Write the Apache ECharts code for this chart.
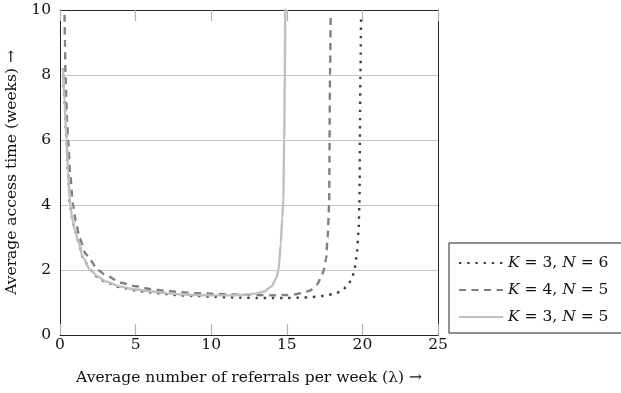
<!DOCTYPE html>
<html>
<head>
<meta charset="utf-8">
<script src="https://cdn.jsdelivr.net/npm/echarts@6/dist/echarts.min.js"></script>
<style>
html,body{margin:0;padding:0;background:#fff;}
#chart{width:621px;height:393px;}
</style>
</head>
<body>
<div id="chart"></div>
<script>
// ---- data ----
var seriesNames = ['K = 3, N = 6', 'K = 4, N = 5', 'K = 3, N = 5'];

var lambdaK3N6 = [0.2,0.3,0.43,0.53,0.66,0.85,1.0,1.2,1.5,2,2.5,3,4,5,6,7,8,9,10,11,12,13,14,15,16,16.5,17,17.5,18.1,18.6,19.03,19.3,19.47,19.56,19.63,19.75,19.8,19.87,19.91];
var timeK3N6   = [8.2,7.2,6.0,5.0,4.0,3.5,3.2,2.9,2.4,2.0,1.78,1.63,1.47,1.37,1.31,1.26,1.22,1.2,1.18,1.16,1.15,1.14,1.14,1.14,1.15,1.16,1.18,1.21,1.26,1.34,1.52,1.73,1.98,2.25,2.5,3.2,4.0,8.0,9.85];

var lambdaK4N5 = [0.30,0.33,0.36,0.42,0.47,0.53,0.68,0.86,1.05,1.3,1.7,2.0,2.5,3,4,5,6,7,8,9,10,11,12,13,14,15,15.5,16,16.5,17,17.3,17.45,17.6,17.7,17.8,17.86,17.9];
var timeK4N5   = [9.85,9.0,8.0,7.2,6.6,6.0,4.9,4.0,3.5,2.97,2.5,2.3,2.0,1.85,1.61,1.5,1.41,1.36,1.32,1.29,1.27,1.25,1.24,1.23,1.22,1.23,1.25,1.29,1.36,1.55,1.8,2.0,2.35,3.0,4.0,8.0,9.8];

var lambdaK3N5 = [0.2,0.3,0.43,0.53,0.66,0.85,1.0,1.2,1.5,2.0,2.5,3,4,5,6,7,8,9,10,11,12,12.5,13,13.5,14,14.3,14.45,14.6,14.7,14.77,14.83,14.87,14.9];
var timeK3N5   = [8.2,7.2,6.0,5.0,4.0,3.5,3.2,2.9,2.4,2.0,1.8,1.65,1.49,1.4,1.34,1.29,1.25,1.23,1.22,1.22,1.23,1.25,1.28,1.34,1.5,1.75,2.0,2.8,3.6,4.2,6,8,10.2];

var xTicks = [0,5,10,15,20,25];
var yTicks = [0,2,4,6,8,10];

function pairs(xs, ys){ return xs.map(function(x,i){ return [x, ys[i]]; }); }

var FONT = 'DejaVu Serif';
var FS = 15.5;
var FRAME = {show: true, onZero: false, lineStyle: {color: '#262626', width: 1}};
var TICK = {show: true, inside: true, length: 11, lineStyle: {color: '#b3b3b3', width: 1.2}};
var chart = echarts.init(document.getElementById('chart'), null, {renderer:'canvas'});

function mkSeries(name, xs, ys, color, dash){
  return {
    name: name, type: 'line', data: pairs(xs, ys),
    showSymbol: false, symbol: 'none',
    smooth: 0.25, smoothMonotone: 'x',
    clip: true, animation: false,
    lineStyle: {color: color, width: 2.4, type: dash, cap: 'butt'},
    itemStyle: {color: color}
  };
}

var option = {
  animation: false,
  backgroundColor: '#fff',
  grid: {left: 60, right: 183, top: 10, bottom: 58, outerBoundsMode: 'none', containLabel: false, show: false},
  xAxis: [{
    type: 'value', min: xTicks[0], max: xTicks[xTicks.length-1], interval: 5,
    name: 'Average number of referrals per week (λ) →',
    nameLocation: 'middle', nameGap: 35,
    nameTextStyle: {fontFamily: FONT, fontSize: FS, color: '#111'},
    axisLine: FRAME,
    axisTick: TICK,
    axisLabel: {fontFamily: FONT, fontSize: FS, color: '#111', margin: 2},
    splitLine: {show: false}
  },{
    type: 'value', position: 'top', min: xTicks[0], max: xTicks[xTicks.length-1], interval: 5,
    axisLine: FRAME,
    axisTick: TICK,
    axisLabel: {show: false},
    splitLine: {show: false}
  }],
  yAxis: [{
    type: 'value', min: yTicks[0], max: yTicks[yTicks.length-1], interval: 2,
    name: 'Average access time (weeks) →',
    nameLocation: 'middle', nameGap: 38,
    nameTextStyle: {fontFamily: FONT, fontSize: FS, color: '#111'},
    axisLine: FRAME,
    axisTick: {show: false},
    axisLabel: {fontFamily: FONT, fontSize: FS, color: '#111', margin: 9},
    splitLine: {show: true, lineStyle: {color: '#c4c4c4', width: 1}}
  },{
    type: 'value', position: 'right', min: yTicks[0], max: yTicks[yTicks.length-1], interval: 2,
    axisLine: FRAME,
    axisTick: {show: false},
    axisLabel: {show: false},
    splitLine: {show: false}
  }],
  legend: {
    orient: 'vertical', left: 449, top: 243,
    padding: [12, 40, 8, 9],
    itemGap: 11, itemWidth: 44, itemHeight: 15,
    borderColor: '#262626', borderWidth: 1,
    backgroundColor: '#fff',
    selectedMode: false,
    data: seriesNames,
    itemStyle: {opacity: 0},
    formatter: function(n){ return n.replace(/([KN])/g, '{i|$1}'); },
    textStyle: {
      fontFamily: FONT, fontSize: FS, color: '#111',
      rich: {i: {fontFamily: FONT, fontStyle: 'italic', fontSize: FS, color: '#111'}}
    }
  },
  series: [
    mkSeries(seriesNames[0], lambdaK3N6, timeK3N6, '#404040', [2.4, 5.8]),
    mkSeries(seriesNames[1], lambdaK4N5, timeK4N5, '#808080', [7, 5.5]),
    mkSeries(seriesNames[2], lambdaK3N5, timeK3N5, '#bfbfbf', 'solid')
  ]
};
chart.setOption(option);
</script>
</body>
</html>
